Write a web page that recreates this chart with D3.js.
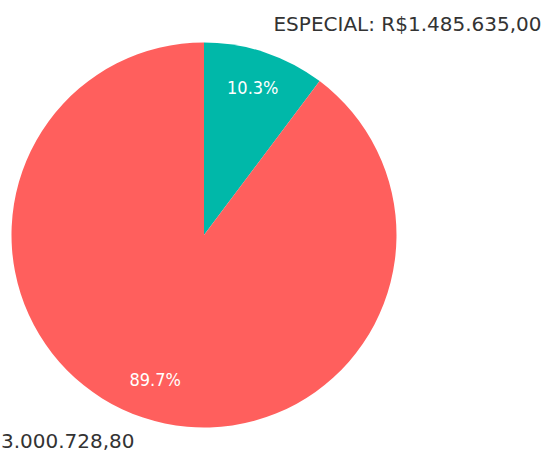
<!DOCTYPE html>
<html lang="pt">
<head>
<meta charset="UTF-8">
<script src="https://cdn.jsdelivr.net/npm/d3@7"></script>
<style>
body{margin:0;background:#fff;}
svg{display:block;}
text{font-family:"DejaVu Sans Condensed","Liberation Sans Narrow",Roboto,sans-serif;}
</style>
</head>
<body>
<div id="chart"></div>
<script>
// dados do gráfico
var categories=["ESPECIAL","NORMAL"];
var values=[1485635.00,13000728.80];
var colors=["#00b8a9","#ff5f5d"];

var width=551,height=450;
var cx=204,cy=235,radius=192.5;

var svg=d3.select("#chart").append("svg")
    .attr("width",width)
    .attr("height",height);

var g=svg.append("g")
    .attr("transform","translate("+cx+","+cy+")");

var pie=d3.pie().sort(null).value(function(d){return d;});
var arcs=pie(values);
var total=d3.sum(values);

var arc=d3.arc().innerRadius(0).outerRadius(radius);
var inLabel=d3.arc().innerRadius(radius*0.8).outerRadius(radius*0.8);
var outLabel=d3.arc().innerRadius(radius*1.14).outerRadius(radius*1.14);

g.selectAll("path.slice")
    .data(arcs)
    .enter().append("path")
    .attr("class","slice")
    .attr("d",arc)
    .attr("fill",function(d,i){return colors[i];});

// porcentagens
g.selectAll("text.pct")
    .data(arcs)
    .enter().append("text")
    .attr("class","pct")
    .attr("transform",function(d){return "translate("+inLabel.centroid(d)+")";})
    .attr("text-anchor","middle")
    .attr("dy","0.3em")
    .attr("fill","#fff")
    .style("font-size","18px")
    .text(function(d){return (d.value/total*100).toFixed(1)+"%";});

var fmt=function(v){
    var s=v.toFixed(2).split(".");
    return "R$"+s[0].replace(/\B(?=(\d{3})+(?!\d))/g,".")+","+s[1];
};

// rótulos externos
g.selectAll("text.lbl")
    .data(arcs)
    .enter().append("text")
    .attr("class","lbl")
    .attr("transform",function(d){return "translate("+outLabel.centroid(d)+")";})
    .attr("text-anchor",function(d){
        var mid=(d.startAngle+d.endAngle)/2;
        return mid<Math.PI?"start":"end";
    })
    .attr("dy","0.22em")
    .attr("fill","#333")
    .style("font-family","'DejaVu Sans',sans-serif")
    .style("font-size","20px")
    .text(function(d,i){return categories[i]+": "+fmt(d.value);});
</script>
</body>
</html>
